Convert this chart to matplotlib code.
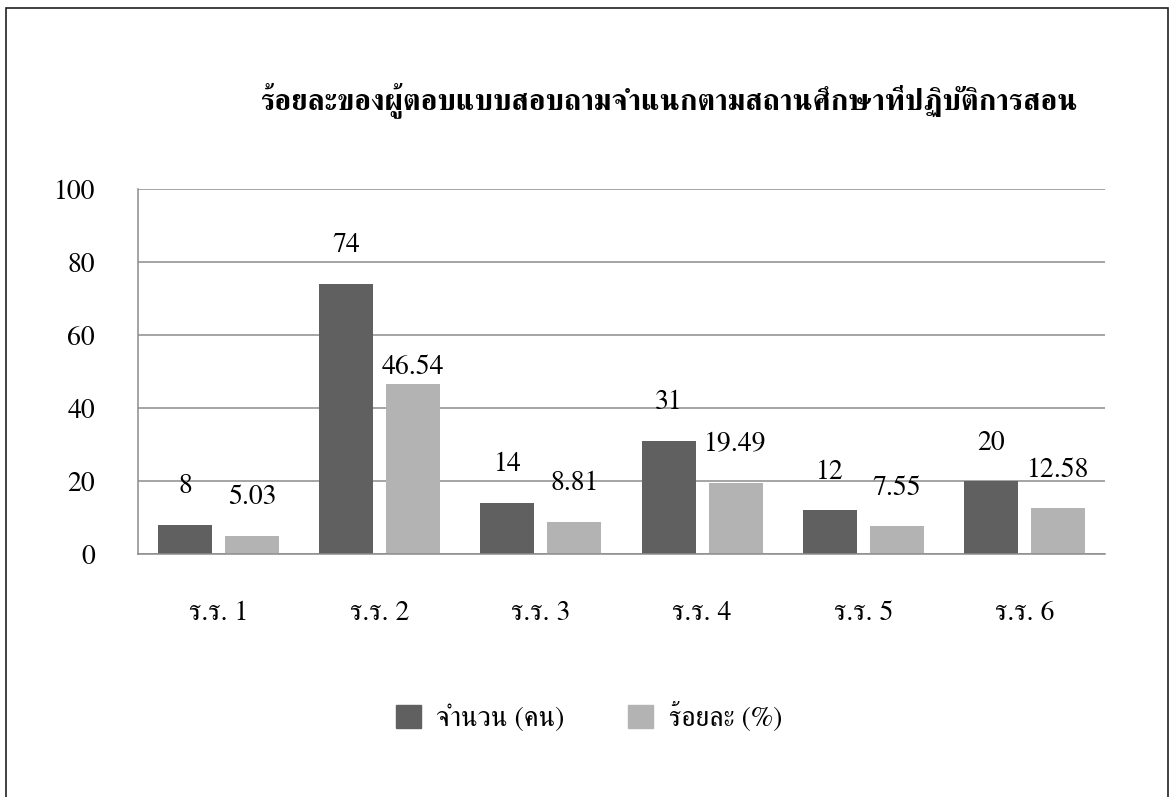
import matplotlib
matplotlib.use("Agg")
import matplotlib.pyplot as plt
import numpy as np
from matplotlib.patches import Rectangle, Patch

plt.rcParams['font.family'] = ['FreeSerif', 'DejaVu Serif']

schools = ["ร.ร. 1", "ร.ร. 2", "ร.ร. 3", "ร.ร. 4", "ร.ร. 5", "ร.ร. 6"]
count_people = [8, 74, 14, 31, 12, 20]
percent = [5.03, 46.54, 8.81, 19.49, 7.55, 12.58]
count_labels = ["8", "74", "14", "31", "12", "20"]
percent_labels = ["5.03", "46.54", "8.81", "19.49", "7.55", "12.58"]
series_names = ["จำนวน (คน)", "ร้อยละ (%)"]
title = "ร้อยละของผู้ตอบแบบสอบถามจำแนกตามสถานศึกษาที่ปฏิบัติการสอน"

dark = "#606060"
light = "#b3b3b3"
grid_c = "#8c8c8c"

fig = plt.figure(figsize=(11.7, 7.97), dpi=100)
fig.patches.append(Rectangle((6 / 1170, -0.01), 1162 / 1170, 1 - 8 / 797 + 0.01,
                             transform=fig.transFigure, fill=False,
                             edgecolor="#202020", linewidth=1.2))

ax = fig.add_axes([138 / 1170, 1 - 554 / 797, (1105 - 138) / 1170, (554 - 189) / 797])
x = np.arange(len(schools))
w = 0.335
off = 0.208
b1 = ax.bar(x - off, count_people, w, color=dark, zorder=3)
b2 = ax.bar(x + off, percent, w, color=light, zorder=3)

# label offsets in pixels above bar top (Excel nudged one label)
lab_off1 = [38] * 6
lab_off2 = [38, 17, 38, 38, 38, 38]
for i in range(len(schools)):
    ax.annotate(count_labels[i], (x[i] - off, count_people[i]), xytext=(0, lab_off1[i]),
                textcoords="offset pixels", ha="center", va="center", fontsize=20)
    ax.annotate(percent_labels[i], (x[i] + off, percent[i]), xytext=(0, lab_off2[i]),
                textcoords="offset pixels", ha="center", va="center", fontsize=20)

ax.set_xlim(-0.5, len(schools) - 0.5)
ax.set_ylim(0, 100)
ax.set_yticks(range(0, 101, 20))
ax.set_xticks(x)
ax.set_xticklabels(schools, fontsize=20)
ax.tick_params(axis="y", length=0, pad=31, labelsize=20)
ax.tick_params(axis="x", length=0, pad=34)
ax.grid(axis="y", color=grid_c, linewidth=1.1, zorder=0)
for s in ["top", "right"]:
    ax.spines[s].set_visible(False)
for s in ["left", "bottom"]:
    ax.spines[s].set_color(grid_c)
    ax.spines[s].set_linewidth(1.1)
    ax.spines[s].set_zorder(4)

fig.text(669 / 1170, 1 - 100 / 797, title, ha="center", va="center",
         fontsize=21.5, fontweight="bold")

handles = [Patch(color=dark), Patch(color=light)]
fig.legend(handles, series_names, loc="center", bbox_to_anchor=(589 / 1170, 1 - 717 / 797),
           ncol=2, frameon=False, fontsize=20, handlelength=0.9, handleheight=0.9,
           handletextpad=0.55, columnspacing=2.3)

fig.savefig("out.png", dpi=100)
